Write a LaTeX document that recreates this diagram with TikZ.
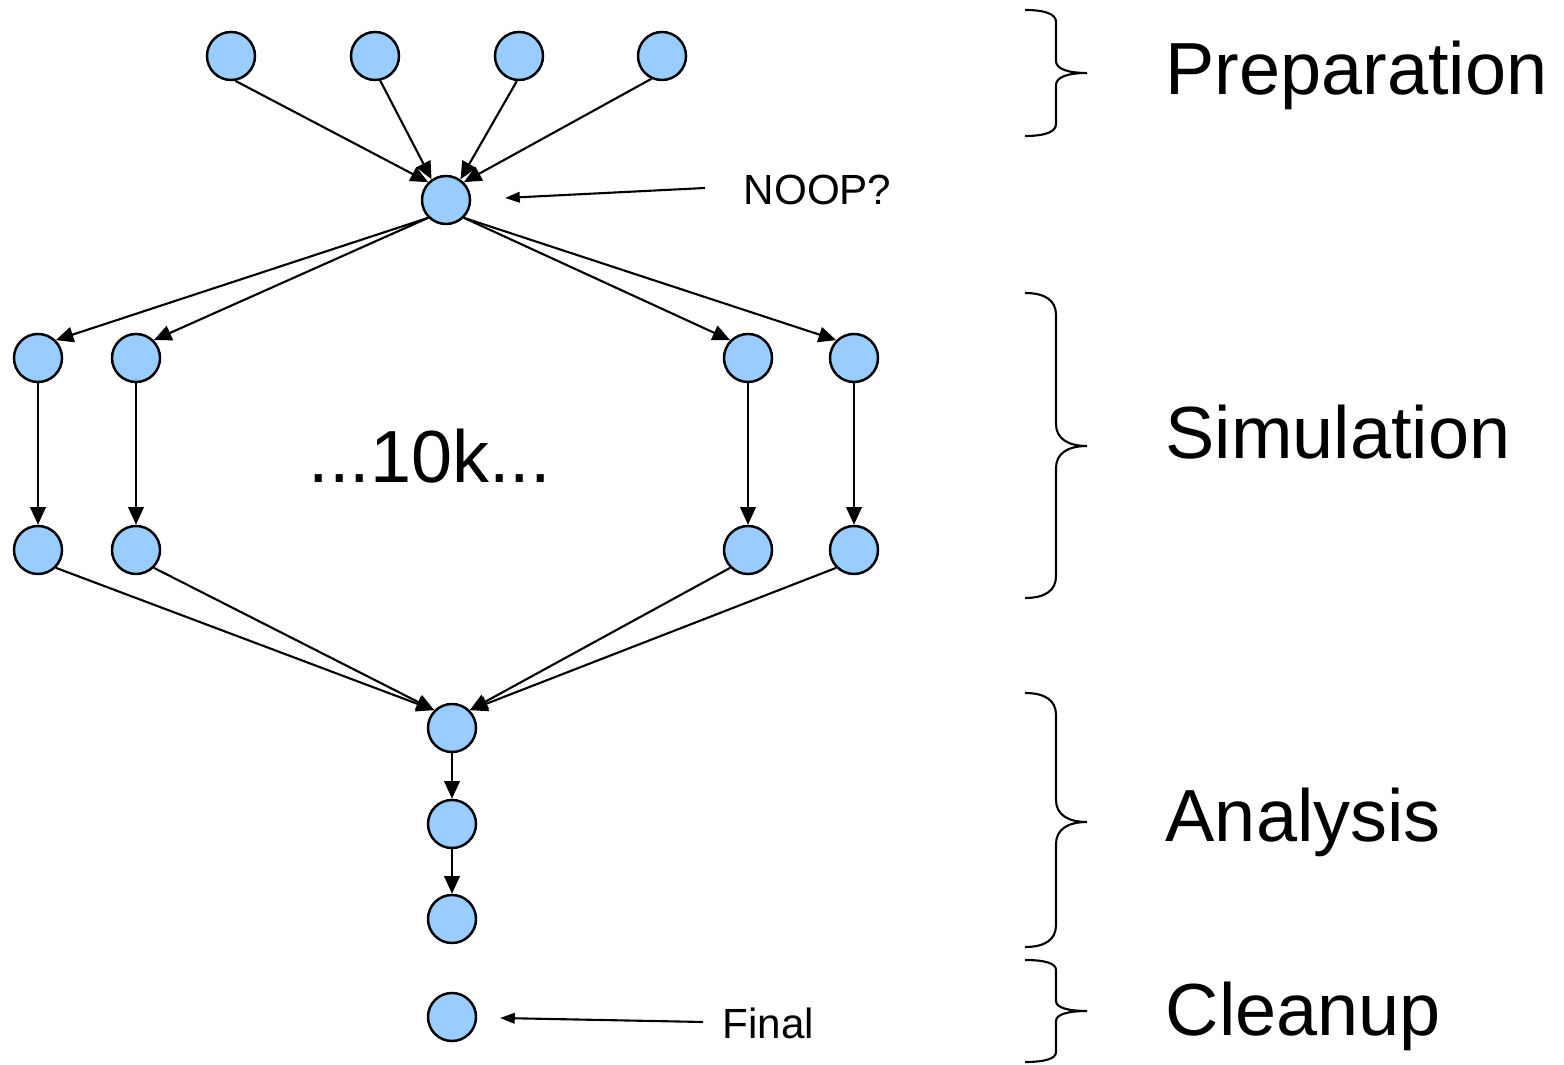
\documentclass[tikz,border=0pt]{standalone}
\usepackage{fontspec}
\setmainfont{Liberation Sans}
\usetikzlibrary{arrows.meta}

\definecolor{jobblue}{RGB}{153,204,255}

\tikzset{
    job/.style={circle, draw, line width=0.7pt, fill=jobblue, minimum size=0.48cm, inner sep=0pt},
    dep/.style={-{Triangle[length=5pt,width=4.4pt]}, line width=0.6pt},
    note/.style={-{Triangle[length=4.2pt,width=3pt]}, line width=0.6pt},
    phase/.style={anchor=base west, inner sep=0pt, font=\fontsize{21}{25}\selectfont},
    small/.style={anchor=base west, inner sep=0pt, font=\fontsize{12}{14}\selectfont},
}

% curly brace: top, tip, bottom, curve size
\newcommand{\phasebrace}[4]{%
    \draw[line width=0.6pt] (1025,#1) .. controls (1045,#1) and (1056,#1+#4/3) .. (1056,#1+#4)
        -- (1056,#2-#4) .. controls (1056,#2-#4/3) and (1068,#2) .. (1087,#2)
        .. controls (1068,#2) and (1056,#2+#4/3) .. (1056,#2+#4)
        -- (1056,#3-#4) .. controls (1056,#3-#4/3) and (1045,#3) .. (1025,#3);}

\begin{document}
\begin{tikzpicture}[x=0.01cm, y=-0.01cm]
    \useasboundingbox (0,0) rectangle (1564,1065);

    % Preparation jobs
    \node[job] (p1) at (231,56) {};
    \node[job] (p2) at (375,56) {};
    \node[job] (p3) at (519,56) {};
    \node[job] (p4) at (662,56) {};
    \node[job] (noop) at (446,200) {};

    % Simulation jobs
    \node[job] (s1) at (38,358) {};
    \node[job] (s2) at (136,358) {};
    \node[job] (s3) at (748,358) {};
    \node[job] (s4) at (854,358) {};
    \node[job] (t1) at (38,550) {};
    \node[job] (t2) at (136,550) {};
    \node[job] (t3) at (748,550) {};
    \node[job] (t4) at (854,550) {};
    \node[anchor=base west, inner sep=0pt, font=\fontsize{21}{25}\selectfont] (many) at (308,483) {...10k...};

    % Analysis and cleanup jobs
    \node[job] (a1) at (452,728) {};
    \node[job] (a2) at (452,824) {};
    \node[job] (a3) at (452,919) {};
    \node[job] (final) at (452,1017) {};

    % Dependencies
    \draw[dep] (p1.280) -- (noop.135);
    \draw[dep] (p2.282) -- (noop.125);
    \draw[dep] (p3.265) -- (noop.55);
    \draw[dep] (p4.245) -- (noop.45);

    \draw[dep] (noop.225) -- (s1.45);
    \draw[dep] (noop.225) -- (s2.45);
    \draw[dep] (noop.315) -- (s3.135);
    \draw[dep] (noop.315) -- (s4.135);

    \draw[dep] (s1) -- (t1);
    \draw[dep] (s2) -- (t2);
    \draw[dep] (s3) -- (t3);
    \draw[dep] (s4) -- (t4);

    \draw[dep] (t1.315) -- (a1.135);
    \draw[dep] (t2.315) -- (a1.135);
    \draw[dep] (t3.225) -- (a1.45);
    \draw[dep] (t4.225) -- (a1.45);

    \draw[dep] (a1) -- (a2);
    \draw[dep] (a2) -- (a3);

    % Notes
    \node[small] (nooplbl) at (743,205) {NOOP?};
    \coordinate (nooptail) at (705,188);
    \coordinate (noophead) at (505,198);
    \draw[note] (nooptail) -- (noophead);

    \node[small] (finallbl) at (722,1038) {Final};
    \coordinate (finaltail) at (703,1022);
    \coordinate (finalhead) at (500,1018);
    \draw[note] (finaltail) -- (finalhead);

    % Phases
    \phasebrace{10}{73}{136}{12}
    \phasebrace{293}{446}{598}{22}
    \phasebrace{693}{822}{947}{22}
    \phasebrace{960}{1011}{1062}{10}

    \node[phase] (prep) at (1165,95) {Preparation};
    \node[phase] (sim) at (1165,459) {Simulation};
    \node[phase] (ana) at (1165,842) {Analysis};
    \node[phase] (clean) at (1165,1035) {Cleanup};
\end{tikzpicture}
\end{document}
